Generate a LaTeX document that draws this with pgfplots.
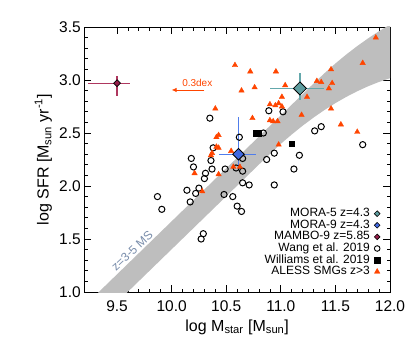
\documentclass[border=0pt]{standalone}
\usepackage{fontspec}
\setmainfont{Liberation Sans}
\usepackage{pgfplots}
\pgfplotsset{compat=1.18}
\usetikzlibrary{arrows.meta}
\definecolor{aless}{RGB}{255,69,0}
\definecolor{bandgray}{RGB}{190,190,190}
\definecolor{slate}{RGB}{120,140,170}
\definecolor{moraFive}{RGB}{94,158,160}
\definecolor{moraFiveBar}{RGB}{100,168,172}
\definecolor{moraNine}{RGB}{65,105,225}
\definecolor{moraNineBar}{RGB}{80,125,235}
\definecolor{mambo}{RGB}{150,30,75}
\definecolor{mamboBar}{RGB}{175,55,95}
\begin{document}
\begin{tikzpicture}
\path[use as bounding box] (0,0) rectangle (415pt,346pt);
\begin{axis}[
  at={(84.3pt,54pt)}, anchor=south west,
  scale only axis, width=305.7pt, height=265pt,
  xmin=9.2, xmax=12, ymin=1, ymax=3.5,
  xtick={9.5,10,10.5,11,11.5,12},
  ytick={1,1.5,2,2.5,3,3.5},
  minor x tick num=4, minor y tick num=4,
  tick align=inside,
  major tick length=7pt, minor tick length=3.5pt,
  every tick/.style={black, line width=0.8pt},
  axis line style={line width=0.9pt},
  xticklabel style={yshift=-5pt, /pgf/number format/.cd, fixed, fixed zerofill, precision=1},
  yticklabel style={/pgf/number format/.cd, fixed, fixed zerofill, precision=1},
  /pgf/number format/assume math mode=true,
  tick label style={font=\fontsize{15.5}{18}\selectfont},
  label style={font=\fontsize{16}{19}\selectfont},
  xlabel={log M\textsubscript{star} [M\textsubscript{sun}]},
  ylabel={log SFR [M\textsubscript{sun} yr\textsuperscript{-1}]},
  xlabel style={at={(axis description cs:0.5,-0.132)}, anchor=center},
  ylabel style={at={(axis description cs:-0.134,0.5)}, anchor=center},
  legend style={draw=none, fill=none, inner sep=0pt,
    at={(rel axis cs:0.968,0.054)}, anchor=south east,
    font=\fontsize{12}{12}\selectfont,
    nodes={inner sep=0.5pt, text height=8.4pt, text depth=2.2pt},
    row sep=0pt, column sep=4pt},
  legend cell align=right, legend plot pos=right,
]
% main sequence band (z=3 lower edge, z=5 upper edge)
\addplot[fill=bandgray, draw=none, forget plot] coordinates {
 (9.2,0.603) (9.6,1.003) (10.0,1.403) (10.4,1.803) (10.865,2.268)
 (11.0,2.398) (11.1,2.486) (11.2,2.569) (11.3,2.646) (11.4,2.717)
 (11.5,2.782) (11.6,2.841) (11.7,2.894) (11.8,2.941) (11.9,2.982) (12.0,3.017)
 (12.0,3.522) (11.9,3.461) (11.8,3.393) (11.7,3.320) (11.6,3.241)
 (11.5,3.156) (11.4,3.064) (11.305,2.972) (11.2,2.867) (10.8,2.467)
 (10.4,2.067) (10.0,1.667) (9.6,1.267) (9.2,0.867) (9.2,0.603)
};
% Wang et al. 2019
\addplot[only marks, mark=o, mark size=3.1pt, black, line width=1pt, forget plot] coordinates {
 (9.87,1.90) (9.91,1.78) (10.35,2.64) (10.18,2.26) (10.20,2.18) (10.14,1.96)
 (10.17,1.85) (10.22,1.93) (10.25,1.98) (10.30,2.07) (10.31,2.12) (10.38,2.36)
 (10.36,2.24) (10.37,2.16) (10.29,1.55) (10.27,1.50) (10.48,1.92) (10.49,2.16)
 (10.56,1.90) (10.59,2.17) (10.60,1.81) (10.64,1.76) (10.62,2.46) (10.65,2.26)
 (10.65,2.14) (10.65,2.03) (10.71,2.01) (10.84,2.50) (10.87,2.25) (10.94,2.31)
 (10.94,2.01) (10.89,2.71) (11.02,2.70) (11.12,2.16) (11.17,2.29) (11.31,2.52)
 (11.37,2.56) (11.75,2.39)
};
% Williams et al. 2019
\addplot[only marks, mark=square*, mark size=2.7pt, black, forget plot] coordinates {
 (10.77,2.50) (10.795,2.50) (11.10,2.40)
};
% ALESS SMGs z>3
\addplot[only marks, mark=triangle*, mark size=3.1pt, aless, draw=none, fill=aless, forget plot] coordinates {
 (10.58,3.14) (10.72,3.08) (10.955,3.08) (10.64,2.90) (10.76,2.93) (11.04,2.95)
 (11.01,2.84) (11.24,2.84) (11.33,2.99) (11.37,2.98) (11.46,3.10) (11.47,2.97)
 (11.44,2.92) (11.75,3.16) (11.87,3.40) (11.46,2.73) (11.19,2.67) (11.55,2.58)
 (11.70,2.51) (10.40,2.73) (10.74,2.64) (10.90,2.77) (10.95,2.76) (10.98,2.78)
 (11.01,2.75) (10.90,2.62) (10.93,2.61) (10.97,2.61) (10.98,2.39) (10.41,2.46)
 (10.43,2.48) (10.41,2.37) (10.43,2.36) (10.36,2.29) (10.37,2.31) (10.21,2.12)
 (10.28,1.95) (10.43,2.11) (10.545,2.33) (10.565,2.18) (10.625,2.18)
};
% MORA-5
\addplot[forget plot, only marks, mark=square*, mark size=4.6pt, mark options={rotate=45, fill=moraFive, draw=black, line width=0.8pt},
  error bars/.cd, x dir=both, x explicit, y dir=both, y explicit,
  error mark=none, error bar style={color=moraFiveBar, line width=1.2pt}] coordinates {
 (11.175,2.92) += (0.22,0.15) -= (0.27,0.11)
};
% MORA-9
\addplot[forget plot, only marks, mark=square*, mark size=4.1pt, mark options={rotate=45, fill=moraNine, draw=black, line width=0.8pt},
  error bars/.cd, x dir=both, x explicit, y dir=both, y explicit,
  error mark=none, error bar style={color=moraNineBar, line width=1.2pt}] coordinates {
 (10.612,2.30) += (0.16,0.35) -= (0.18,0.15)
};
% MAMBO-9
\addplot[forget plot, only marks, mark=square*, mark size=2.4pt, mark options={rotate=45, fill=mambo, draw=black, line width=0.7pt},
  error bars/.cd, x dir=both, x explicit, y dir=both, y explicit,
  error mark=none, error bar style={color=mamboBar, line width=1.2pt}] coordinates {
 (9.50,2.97) += (0.12,0.07) -= (0.27,0.12)
};
% legend
\addlegendimage{only marks, mark=square*, mark size=2pt, mark options={rotate=45, fill=moraFive, draw=black, line width=0.6pt}}
\addlegendentry{MORA-5 z=4.3}
\addlegendimage{only marks, mark=square*, mark size=2pt, mark options={rotate=45, fill=moraNine, draw=black, line width=0.6pt}}
\addlegendentry{MORA-9 z=4.3}
\addlegendimage{only marks, mark=square*, mark size=2pt, mark options={rotate=45, fill=mambo, draw=black, line width=0.6pt}}
\addlegendentry{MAMBO-9 z=5.85}
\addlegendimage{only marks, mark=o, mark size=2.8pt, black, line width=0.9pt}
\addlegendentry{Wang et al. 2019}
\addlegendimage{only marks, mark=square*, mark size=2.8pt, black}
\addlegendentry{Williams et al. 2019}
\addlegendimage{only marks, mark=triangle*, mark size=3.2pt, aless, draw=none, fill=aless}
\addlegendentry{ALESS SMGs z>3}
% annotations
\draw[aless, line width=0.8pt, -{Latex[length=5pt,width=4.5pt]}] (axis cs:10.30,2.906) -- (axis cs:10.00,2.906);
\node[text=aless, font=\fontsize{10}{11}\selectfont] at (axis cs:10.235,2.969) {0.3dex};
\node[rotate=43, text=slate, font=\fontsize{12}{14}\selectfont] at (axis cs:9.638,1.39) {z=3-5 MS};
\end{axis}
\end{tikzpicture}
\end{document}
